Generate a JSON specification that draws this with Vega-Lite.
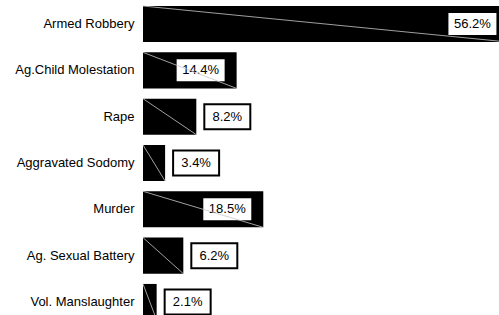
{
  "$schema": "https://vega.github.io/schema/vega-lite/v6.json",
  "width": 356,
  "height": 315,
  "autosize": "none",
  "padding": {"left": 143, "top": 0, "right": 0, "bottom": 0},
  "background": "white",
  "config": {"view": {"stroke": null}, "font": "Liberation Sans"},
  "data": {
    "values": [
      {"cat": "Armed Robbery", "pct": 56.2, "label": "56.2%"},
      {"cat": "Ag.Child Molestation", "pct": 14.4, "label": "14.4%"},
      {"cat": "Rape", "pct": 8.2, "label": "8.2%"},
      {"cat": "Aggravated Sodomy", "pct": 3.4, "label": "3.4%"},
      {"cat": "Murder", "pct": 18.5, "label": "18.5%"},
      {"cat": "Ag. Sexual Battery", "pct": 6.2, "label": "6.2%"},
      {"cat": "Vol. Manslaughter", "pct": 2.1, "label": "2.1%"}
    ]
  },
  "encoding": {
    "y": {
      "field": "cat", "type": "nominal", "sort": null,
      "scale": {"range": [0, 326], "paddingInner": 0.222, "paddingOuter": 0.13},
      "axis": {"title": null, "ticks": false, "domain": false, "labelFontSize": 13, "labelColor": "black", "labelPadding": 9, "labelFont": "Liberation Sans", "labelLimit": 300}
    },
    "x": {"field": "pct", "type": "quantitative", "scale": {"domain": [0, 54.75], "nice": false, "zero": true}, "axis": null}
  },
  "layer": [
    {"mark": {"type": "bar", "color": "black", "clip": false}},
    {
      "mark": {"type": "point", "filled": true, "fill": "white", "stroke": "black", "strokeWidth": 2, "opacity": 1, "size": 10000},
      "encoding": {
        "shape": {"condition": {"test": "datum.pct > 10", "value": "M-1.22,-0.24H-0.22V0.24H-1.22Z"}, "value": "M0.16,-0.25H1.08V0.25H0.16Z"}
      }
    },
    {
      "transform": [{"filter": "datum.pct > 10"}],
      "mark": {"type": "text", "dx": -36, "fontSize": 13, "color": "black", "font": "Liberation Sans"},
      "encoding": {"text": {"field": "label"}}
    },
    {
      "transform": [{"filter": "datum.pct <= 10"}],
      "mark": {"type": "text", "dx": 31, "fontSize": 13, "color": "black", "font": "Liberation Sans"},
      "encoding": {"text": {"field": "label"}}
    },
    {
      "mark": {"type": "rule", "color": "#c8c8c8", "strokeWidth": 0.8},
      "encoding": {
        "y": {"field": "cat", "type": "nominal", "sort": null, "bandPosition": 1},
        "x2": {"datum": 0},
        "y2": {"field": "cat", "bandPosition": 0}
      }
    }
  ]
}
